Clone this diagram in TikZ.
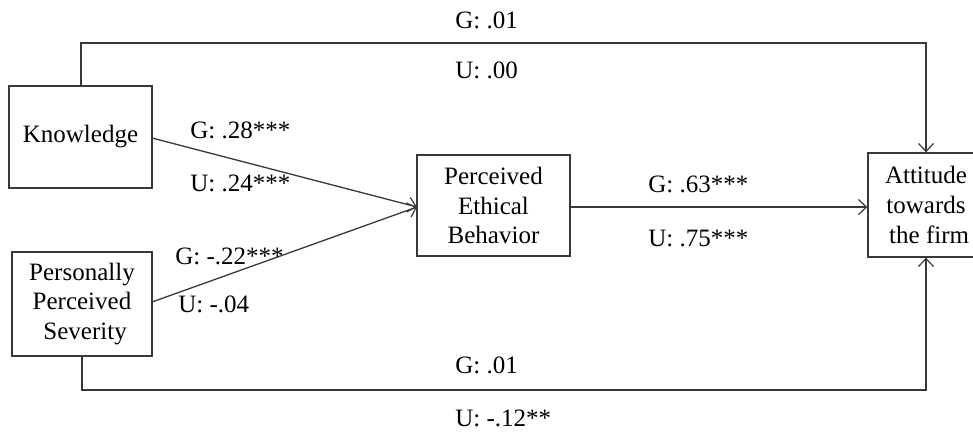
\documentclass[tikz,border=0pt]{standalone}
\usepackage{fontspec}
\setmainfont{Liberation Serif}
\usetikzlibrary{arrows.meta}
\begin{document}
\begin{tikzpicture}[x=0.5pt,y=-0.5pt,
  box/.style={draw=black!78,line width=0.65pt,align=center,inner sep=0pt,
    font=\fontsize{12.5}{14.8}\selectfont},
  conn/.style={draw=black!78,line width=0.65pt},
  arr/.style={conn,-{Straight Barb[length=4pt,width=7.5pt,line width=0.6pt]}},
  lab/.style={anchor=west,inner sep=0pt,font=\fontsize{12.5}{14.8}\selectfont}]
\useasboundingbox (0,0) rectangle (973,434);
\clip (0,0) rectangle (973,434);
\node[box,minimum width=71.5pt,minimum height=51pt] (know) at (80.5,137) {Knowledge};
\node[box,minimum width=70pt,minimum height=52pt] (sev) at (82,304) {Personally\\Perceived\\\ Severity};
\node[box,minimum width=76.5pt,minimum height=50.5pt] (peb) at (493.5,205.5) {Perceived\\Ethical\\Behavior};
\node[box,minimum width=58pt,minimum height=52pt] (att) at (926,205) {Attitude\\towards\\\ the firm};
\coordinate (k0) at (81,86);
\coordinate (t1) at (81,43);
\coordinate (t2) at (926,43);
\coordinate (s0) at (82,356);
\coordinate (b1) at (82,390);
\coordinate (b2) at (926,390);
\coordinate (kout) at (152,138);
\coordinate (sout) at (152,302);
\coordinate (pin) at (417,207);
\draw[arr] (k0) -- (t1) -- (t2) -- (att.north);
\draw[arr] (s0) -- (b1) -- (b2) -- (att.south);
\draw[arr] (kout) -- (pin);
\draw[arr] (sout) -- (pin);
\draw[arr] (peb.east |- pin) -- (att.west |- pin);
\node[lab] (l1) at (455,20) {G: .01};
\node[lab] (l2) at (455,70) {U: .00};
\node[lab] (l3) at (190,130) {G: .28***};
\node[lab] (l4) at (190,183) {U: .24***};
\node[lab] (l5) at (175,256) {G: -.22***};
\node[lab] (l6) at (178,304) {U: -.04};
\node[lab] (l7) at (648,184) {G: .63***};
\node[lab] (l8) at (648,238) {U: .75***};
\node[lab] (l9) at (455,365) {G: .01};
\node[lab] (l10) at (455,418) {U: -.12**};
\end{tikzpicture}
\end{document}
